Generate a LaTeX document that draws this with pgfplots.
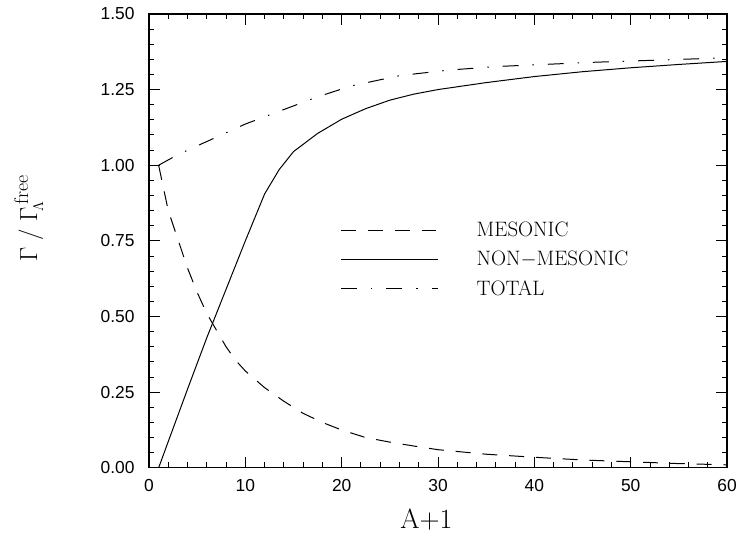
\documentclass[border=0pt]{standalone}
\usepackage{pgfplots}
\pgfplotsset{compat=1.18}
\usepackage{fontspec}
\newfontfamily\tickfont{Liberation Sans}

\begin{document}
\begin{tikzpicture}
\useasboundingbox (-150pt,-68pt) rectangle (595pt,471pt);
\begin{axis}[
    scale only axis,
    width=582pt, height=457pt,
    xmin=0, xmax=60, ymin=0, ymax=1.5,
    xtick={0,10,20,30,40,50,60},
    ytick={0,0.25,0.5,0.75,1,1.25,1.5},
    minor x tick num=4, minor y tick num=4,
    tick align=inside,
    major tick length=11pt, minor tick length=5.5pt,
    axis line style={line width=1.3pt},
    every tick/.style={black, line width=1pt},
    /pgf/number format/assume math mode=true,
    ticklabel style={font=\tickfont\fontsize{17.5}{20}\selectfont},
    yticklabel style={/pgf/number format/fixed, /pgf/number format/fixed zerofill,
        /pgf/number format/precision=2, xshift=-11pt},
    xticklabel style={yshift=-8pt},
    xlabel={\fontsize{28}{32}\selectfont A+1},
    xlabel style={at={(axis description cs:0.48,-0.114)}, anchor=center},
    ylabel={\fontsize{30}{34}\selectfont $\Gamma\;/\;\Gamma_{\!\mbox{\fontsize{15}{15}\selectfont$\Lambda$}}^{\,\mbox{\fontsize{20}{20}\selectfont free}}$},
    ylabel style={at={(axis description cs:-0.208,0.55)}, anchor=center},
    legend style={draw=none, fill=none, at={(axis description cs:0.326,0.55)},
        anchor=north west, font=\fontsize{21}{24}\selectfont, row sep=9pt,
        /tikz/every odd column/.style={column sep=36pt}},
    legend cell align=left,
    legend image code/.code={\draw[#1] (0pt,0pt) -- (98pt,0pt);},
]
\addplot[black, line width=1pt, dash pattern=on 15pt off 12pt] coordinates {
(1,1.0) (2,0.85) (3,0.755) (4,0.66) (5,0.58) (6,0.51) (7,0.455) (8,0.40)
(9,0.355) (10,0.32) (12,0.265) (14,0.22) (16,0.18) (18,0.15) (20,0.125)
(22.5,0.10) (25,0.085) (27.5,0.072) (30,0.06) (35,0.045) (40,0.035)
(45,0.026) (50,0.02) (55,0.014) (60,0.01)};
\addlegendentry{MESONIC}
\addplot[black, line width=1pt] coordinates {
(1,0) (2,0.087) (4,0.26) (6,0.43) (8,0.59) (10,0.75) (12,0.905) (13.5,0.985)
(15,1.045) (17.5,1.105) (20,1.152) (22.5,1.187) (25,1.215) (27.5,1.235)
(30,1.25) (35,1.273) (40,1.293) (45,1.309) (50,1.322) (55,1.333) (60,1.343)};
\addlegendentry{NON$-$MESONIC}
\addplot[black, line width=1pt, dash pattern=on 16pt off 14pt on 1.5pt off 14pt] coordinates {
(1,1.0) (3,1.035) (5,1.064) (8,1.107) (10,1.136) (14,1.184) (17.5,1.226)
(21,1.262) (26,1.296) (31,1.314) (36,1.326) (46,1.340) (60,1.355)};
\addlegendentry{TOTAL}
\end{axis}
\end{tikzpicture}
\end{document}
